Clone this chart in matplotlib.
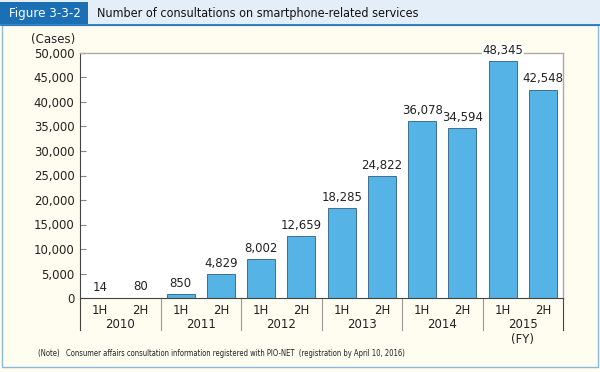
import matplotlib
matplotlib.use("Agg")
import matplotlib.pyplot as plt
from matplotlib.patches import Rectangle
from matplotlib.lines import Line2D

years = ["2010", "2011", "2012", "2013", "2014", "2015"]
halves = ["1H", "2H"]
values = [14, 80, 850, 4829, 8002, 12659, 18285, 24822, 36078, 34594, 48345, 42548]
yticks = [0, 5000, 10000, 15000, 20000, 25000, 30000, 35000, 40000, 45000, 50000]

W, H = 600, 372
fig = plt.figure(figsize=(6, 3.72), dpi=100)
fig.patch.set_facecolor("#FFFDF0")

def fx(px): return px / W
def fy(py): return 1 - py / H

# header
fig.patches.append(Rectangle((0, fy(25)), 1, 25 / H, transform=fig.transFigure,
                             facecolor="#E4EEF8", edgecolor="none", zorder=0))
fig.patches.append(Rectangle((0, fy(24)), fx(88), 22 / H, transform=fig.transFigure,
                             facecolor="#1B6FB5", edgecolor="none", zorder=1))
fig.text(fx(45), fy(13), "Figure 3-3-2", color="white", fontsize=9.5, va="center", ha="center",
         family="DejaVu Sans", stretch="condensed")
fig.text(fx(97), fy(13), "Number of consultations on smartphone-related services",
         color="#111111", fontsize=9, va="center", ha="left", family="DejaVu Sans", stretch="condensed")
# panel border
fig.lines.append(Line2D([0, 1], [fy(24.5), fy(24.5)], transform=fig.transFigure, color="#1B6FB5", lw=1.2))
fig.patches.append(Rectangle((fx(1.5), fy(367)), fx(596), (367 - 25) / H, transform=fig.transFigure,
                             facecolor="none", edgecolor="#8CB8DC", lw=1.0, zorder=1))

left, right, top, bottom = 80, 563, 53, 298
ax = fig.add_axes([fx(left), fy(bottom), fx(right - left), (bottom - top) / H])
ax.set_facecolor("white")
n = len(values)
x = list(range(n))
ax.bar(x, values, width=0.7, color="#55B3E6", edgecolor="#2E5F80", linewidth=0.6, zorder=2)
ax.set_xlim(-0.5, n - 0.5)
ax.set_ylim(0, 50000)
ax.set_yticks(yticks)
ax.set_yticklabels([f"{v:,}" for v in yticks], fontsize=8.5, color="#222222")
ax.tick_params(axis="y", direction="in", length=4, color="#888888", pad=4)
ax.set_xticks([])
for s in ["top", "right"]:
    ax.spines[s].set_color("#AAAAAA")
    ax.spines[s].set_linewidth(1.0)
ax.spines["left"].set_color("#444444")
ax.spines["left"].set_linewidth(0.8)
ax.spines["bottom"].set_color("#444444")
ax.spines["bottom"].set_linewidth(0.8)

for xi, v in zip(x, values):
    ax.annotate(f"{v:,}", (xi, v), xytext=(0, 3), textcoords="offset points",
                ha="center", va="bottom", fontsize=8.5, color="#222222", zorder=5,
                bbox=dict(facecolor="white", edgecolor="none", pad=0.3) if v > 45000 else None,
                annotation_clip=False)

trans = ax.get_xaxis_transform()
for i in range(n):
    ax.text(i, -0.05, halves[i % 2], transform=trans, ha="center", va="center", fontsize=8.5, color="#222222")
for j, yr in enumerate(years):
    ax.text(2 * j + 0.5, -0.11, yr, transform=trans, ha="center", va="center", fontsize=8.5, color="#222222")
ax.text(2 * (len(years) - 1) + 0.5, -0.17, "(FY)", transform=trans, ha="center", va="center",
        fontsize=8.5, color="#222222")
for j in range(len(years) + 1):
    xd = 2 * j - 0.5
    ax.add_line(Line2D([xd, xd], [0, -(330 - 298) / (bottom - top)], transform=trans,
                       color="#444444" if j in (0, len(years)) else "#999999", lw=0.8, clip_on=False))

fig.text(fx(75), fy(40), "(Cases)", ha="right", va="center", fontsize=8.5, color="#222222")
fig.text(fx(38), fy(354), "(Note)   Consumer affairs consultation information registered with PIO-NET  (registration by April 10, 2016)",
         ha="left", va="center", fontsize=5.5, color="#222222", family="DejaVu Sans", stretch="condensed")

fig.savefig("out.png", dpi=100, facecolor=fig.get_facecolor())
